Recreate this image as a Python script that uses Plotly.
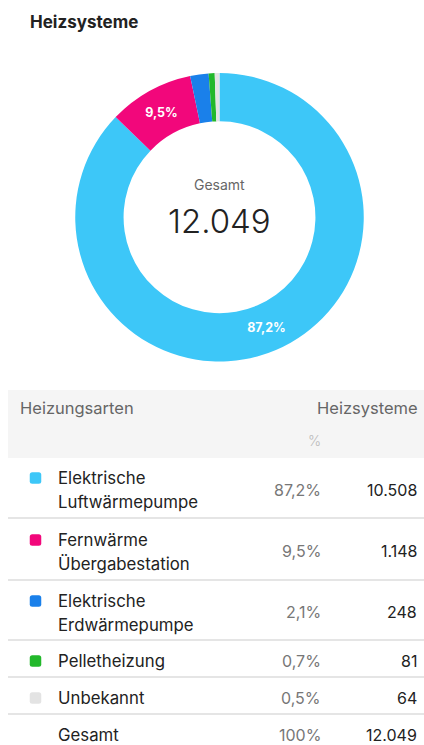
import plotly.graph_objects as go

# Heating system counts
categories = [
    "Elektrische Luftwärmepumpe",
    "Fernwärme Übergabestation",
    "Elektrische Erdwärmepumpe",
    "Pelletheizung",
    "Unbekannt",
]
label_lines = [
    ["Elektrische", "Luftwärmepumpe"],
    ["Fernwärme", "Übergabestation"],
    ["Elektrische", "Erdwärmepumpe"],
    ["Pelletheizung"],
    ["Unbekannt"],
]
values = [10508, 1148, 248, 81, 64]
colors = ["#3DC7F8", "#F2077B", "#1A80EA", "#22B82B", "#E3E3E3"]

W, H = 424, 745
FONT = "Inter"
total = sum(values)


def px(x):
    return x / W


def py(y):
    return 1 - y / H


def de_num(v):
    return f"{v:,}".replace(",", ".")


def de_pct(v):
    return f"{v * 100 / total:.1f}".replace(".", ",") + "%"


def rounded_square(cx, cy, s, r):
    """SVG path (pixel coords converted to paper) for a small rounded square."""
    x0, x1 = cx - s / 2, cx + s / 2
    y0, y1 = cy - s / 2, cy + s / 2
    pts = [
        f"M{px(x0 + r)},{py(y0)}",
        f"L{px(x1 - r)},{py(y0)}",
        f"Q{px(x1)},{py(y0)} {px(x1)},{py(y0 + r)}",
        f"L{px(x1)},{py(y1 - r)}",
        f"Q{px(x1)},{py(y1)} {px(x1 - r)},{py(y1)}",
        f"L{px(x0 + r)},{py(y1)}",
        f"Q{px(x0)},{py(y1)} {px(x0)},{py(y1 - r)}",
        f"L{px(x0)},{py(y0 + r)}",
        f"Q{px(x0)},{py(y0)} {px(x0 + r)},{py(y0)}",
        "Z",
    ]
    return " ".join(pts)


pct_text = [de_pct(v) for v in values]
slice_text = [t if v / total > 0.05 else "" for t, v in zip(pct_text, values)]

fig = go.Figure()
fig.add_trace(go.Pie(
    labels=categories,
    values=values,
    marker=dict(colors=colors, line=dict(width=0)),
    hole=0.665,
    sort=False,
    direction="clockwise",
    rotation=0,
    text=slice_text,
    textinfo="text",
    textposition="inside",
    insidetextorientation="horizontal",
    textfont=dict(family=FONT, size=12.5, color="white", weight="bold"),
    domain=dict(x=[px(75), px(364)], y=[py(361.5), py(73)]),
    showlegend=False,
    hoverinfo="label+value+percent",
))

ann = []
shapes = []

# Title
ann.append(dict(x=px(28), y=py(22), text="<b>Heizsysteme</b>", showarrow=False,
                xanchor="left", yanchor="middle",
                font=dict(family=FONT, size=17, color="#222")))

# Centre of the donut
ann.append(dict(x=px(219.5), y=py(185), text="Gesamt", showarrow=False,
                xanchor="center", yanchor="middle",
                font=dict(family=FONT, size=14, color="#666")))
ann.append(dict(x=px(219.5), y=py(221), text=de_num(total), showarrow=False,
                xanchor="center", yanchor="middle",
                font=dict(family=FONT, size=33, color="#222", weight=300)))

# Table header
shapes.append(dict(type="rect", xref="paper", yref="paper",
                   x0=px(8), x1=px(424), y0=py(458), y1=py(390),
                   fillcolor="#F5F5F5", line=dict(width=0), layer="below"))
ann.append(dict(x=px(18), y=py(408), text="Heizungsarten", showarrow=False,
                xanchor="left", yanchor="middle",
                font=dict(family=FONT, size=16.5, color="#666")))
ann.append(dict(x=px(420), y=py(408), text="Heizsysteme", showarrow=False,
                xanchor="right", yanchor="middle",
                font=dict(family=FONT, size=16.5, color="#666")))
ann.append(dict(x=px(323), y=py(440), text="%", showarrow=False,
                xanchor="right", yanchor="middle",
                font=dict(family=FONT, size=14, color="#BBBBBB", weight=300)))

# Table rows: first line y, value centre y, separator y below
row_first = [478, 540, 601, 661, 698]
row_mid = [490, 551, 612, 661, 698]
row_sep = [518, 580, 640, 677, 714]
line_gap = 24

for i, lines in enumerate(label_lines):
    y0 = row_first[i]
    shapes.append(dict(type="path", xref="paper", yref="paper",
                       path=rounded_square(35.5, y0, 11.5, 2.5),
                       fillcolor=colors[i], line=dict(width=0)))
    for j, line in enumerate(lines):
        ann.append(dict(x=px(56), y=py(y0 + j * line_gap), text=line, showarrow=False,
                        xanchor="left", yanchor="middle",
                        font=dict(family=FONT, size=16.8, color="#222")))
    ann.append(dict(x=px(323), y=py(row_mid[i]), text=pct_text[i], showarrow=False,
                    xanchor="right", yanchor="middle",
                    font=dict(family=FONT, size=16, color="#777")))
    ann.append(dict(x=px(419), y=py(row_mid[i]), text=de_num(values[i]), showarrow=False,
                    xanchor="right", yanchor="middle",
                    font=dict(family=FONT, size=16, color="#222")))
    shapes.append(dict(type="line", xref="paper", yref="paper",
                       x0=px(8), x1=px(424), y0=py(row_sep[i]), y1=py(row_sep[i]),
                       line=dict(color="#DDDDDD", width=1.5)))

# Total row
ann.append(dict(x=px(56), y=py(735), text="Gesamt", showarrow=False,
                xanchor="left", yanchor="middle",
                font=dict(family=FONT, size=16.8, color="#222")))
ann.append(dict(x=px(323), y=py(735), text="100%", showarrow=False,
                xanchor="right", yanchor="middle",
                font=dict(family=FONT, size=16, color="#777")))
ann.append(dict(x=px(419), y=py(735), text=de_num(total), showarrow=False,
                xanchor="right", yanchor="middle",
                font=dict(family=FONT, size=16, color="#222")))

fig.update_layout(
    width=W, height=H,
    margin=dict(l=0, r=0, t=0, b=0),
    paper_bgcolor="white",
    plot_bgcolor="white",
    annotations=ann,
    shapes=shapes,
    font=dict(family=FONT),
)

fig.write_html("out.html")
